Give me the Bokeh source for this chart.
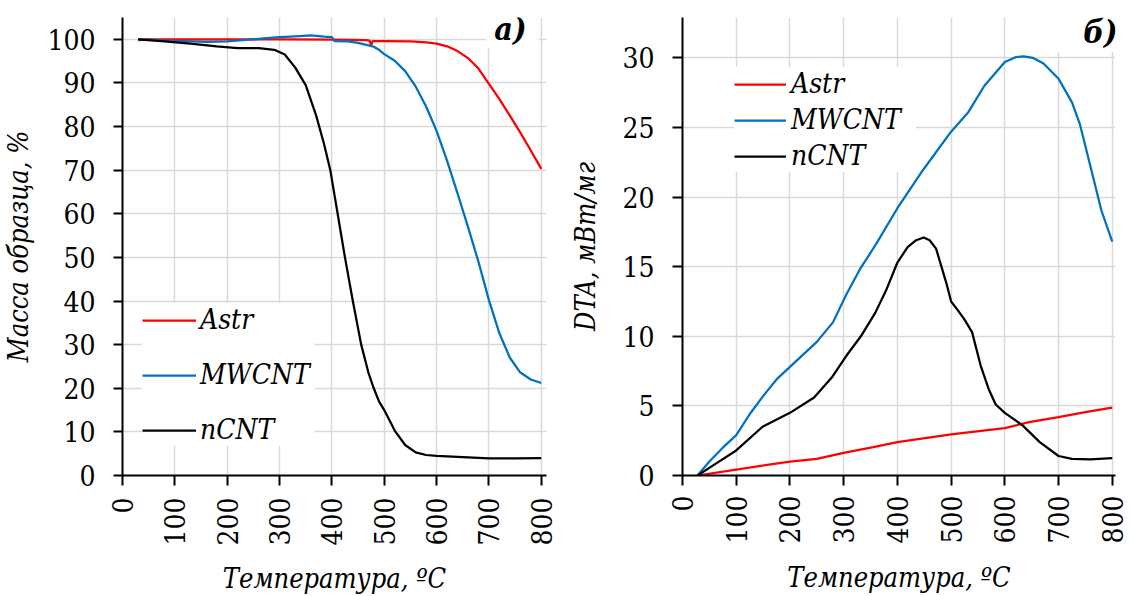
import math
from bokeh.plotting import figure
from bokeh.layouts import row
from bokeh.models import FixedTicker, Label, BoxAnnotation, Range1d
from bokeh.embed import file_html
from bokeh.resources import INLINE

# ---------------- data: TGA (panel a) ----------------
tga_astr_t = [30, 100, 200, 300, 400, 465, 472, 475, 478, 490, 500, 550, 580, 600, 620, 640, 660, 680, 700, 720, 740, 760, 780, 800]
tga_astr = [100, 100, 100, 100, 99.9, 99.8, 99.7, 98.6, 99.6, 99.6, 99.6, 99.5, 99.3, 99.0, 98.4, 97.3, 95.7, 93.3, 89.8, 86.3, 82.5, 78.6, 74.5, 70.3]

tga_mw_t = [30, 50, 80, 120, 160, 200, 240, 270, 300, 330, 360, 385, 400, 405, 430, 450, 470, 480, 490, 500, 520, 540, 560, 580, 600, 620, 640, 660, 680, 700, 720, 740, 760, 780, 800]
tga_mw = [99.8, 99.9, 99.7, 99.6, 99.4, 99.5, 99.9, 100.2, 100.5, 100.7, 100.9, 100.6, 100.5, 99.6, 99.5, 99.2, 98.6, 98.3, 97.6, 96.6, 95.1, 92.7, 89.2, 84.6, 79.0, 72.2, 64.7, 57.0, 49.0, 40.2, 32.6, 27.0, 23.6, 22.0, 21.2]

tga_n_t = [30, 80, 130, 180, 220, 260, 290, 310, 330, 350, 370, 385, 397, 411, 425, 440, 456, 470, 480, 490, 500, 520, 540, 560, 580, 600, 650, 700, 750, 800]
tga_n = [100, 99.5, 99.0, 98.4, 98.0, 98.0, 97.6, 96.5, 93.5, 89.5, 82.5, 76, 70, 60, 50, 40, 30, 23.5, 20, 17, 15, 10.3, 7, 5.3, 4.7, 4.5, 4.2, 3.9, 3.9, 4.0]

# ---------------- data: DTA (panel б) ----------------
dta_astr_t = [28, 100, 200, 250, 300, 355, 400, 500, 600, 645, 700, 750, 800]
dta_astr = [0, 0.43, 1.0, 1.2, 1.63, 2.04, 2.4, 2.95, 3.4, 3.84, 4.2, 4.55, 4.87]

dta_mw_t = [28, 50, 75, 100, 125, 150, 175, 200, 225, 250, 280, 305, 330, 360, 400, 445, 500, 532, 562, 600, 620, 635, 652, 672, 700, 725, 740, 760, 780, 800]
dta_mw = [0, 1.0, 2.0, 2.9, 4.4, 5.7, 6.9, 7.8, 8.7, 9.6, 11.0, 13.0, 14.8, 16.6, 19.2, 21.8, 24.7, 26.1, 28.0, 29.7, 30.05, 30.1, 30.0, 29.6, 28.5, 26.8, 25.2, 22.1, 19.0, 16.8]

dta_n_t = [28, 60, 100, 149, 200, 245, 279, 305, 332, 359, 379, 400, 419, 435, 449, 460, 472, 482, 492, 500, 512, 525, 539, 555, 570, 583, 600, 633, 665, 700, 725, 759, 800]
dta_n = [0, 0.8, 1.8, 3.5, 4.5, 5.6, 7.1, 8.6, 10.0, 11.7, 13.3, 15.3, 16.4, 16.9, 17.1, 16.9, 16.3, 15.0, 13.7, 12.5, 11.9, 11.2, 10.3, 7.9, 6.2, 5.1, 4.5, 3.6, 2.4, 1.4, 1.2, 1.15, 1.25]

x_ticks = [0, 100, 200, 300, 400, 500, 600, 700, 800]
tga_ticks = [0, 10, 20, 30, 40, 50, 60, 70, 80, 90, 100]
dta_ticks = [0, 5, 10, 15, 20, 25, 30]

series_names = ["Astr", "MWCNT", "nCNT"]
colors = ["#ff0000", "#0070c0", "#000000"]
x_title = "Температура, ºC"

FONT = "'DejaVu Serif Condensed', 'DejaVu Serif'"
GRID = "#d9d9d9"


def style(p, yticks):
    p.xaxis.ticker = FixedTicker(ticks=x_ticks)
    p.yaxis.ticker = FixedTicker(ticks=yticks)
    p.xgrid.ticker = FixedTicker(ticks=x_ticks)
    p.ygrid.ticker = FixedTicker(ticks=yticks)
    for g in (p.xgrid[0], p.ygrid[0]):
        g.grid_line_color = GRID
        g.grid_line_width = 1.5
    for ax in (p.xaxis[0], p.yaxis[0]):
        ax.axis_line_width = 2
        ax.axis_line_color = "black"
        ax.major_tick_line_width = 2
        ax.major_tick_line_color = "black"
        ax.major_tick_in = 0
        ax.major_tick_out = 10
        ax.minor_tick_line_color = None
        ax.major_label_text_font = FONT
        ax.major_label_text_font_size = "28px"
        ax.major_label_text_color = "black"
        ax.axis_label_text_font = FONT
        ax.axis_label_text_font_size = "27px"
        ax.axis_label_text_font_style = "italic"
        ax.axis_label_text_color = "black"
    p.xaxis.major_label_orientation = math.pi / 2
    p.outline_line_color = None
    p.background_fill_color = "white"


def style_legend(p, loc, padding, spacing, glyph_w, standoff, label_w):
    lg = p.legend[0]
    lg.location = loc
    lg.margin = 0
    lg.padding = padding
    lg.spacing = spacing
    lg.glyph_width = glyph_w
    lg.glyph_height = 30
    lg.label_height = 30
    lg.label_standoff = standoff
    lg.label_width = label_w
    lg.label_text_font = FONT
    lg.label_text_font_size = "28px"
    lg.label_text_font_style = "italic"
    lg.label_text_color = "black"
    lg.border_line_color = None
    lg.background_fill_color = "white"
    lg.background_fill_alpha = 1.0


# ---------------- panel a ----------------
p1 = figure(width=558, height=596, output_backend="svg", toolbar_location=None,
            x_range=Range1d(0, 810), y_range=Range1d(0, 105),
            min_border_left=117, min_border_right=12, min_border_top=17, min_border_bottom=117)
style(p1, tga_ticks)
p1.xaxis.axis_label = x_title
p1.yaxis.axis_label = "Масса образца, %"
p1.xaxis.major_label_standoff = 12
p1.xaxis.axis_label_standoff = 14
p1.yaxis.major_label_standoff = 18
p1.yaxis.axis_label_standoff = 10
p1.yaxis.major_tick_out = 9

p1.add_layout(BoxAnnotation(left=695, right=795, bottom=98, top=105, fill_color="white",
                            fill_alpha=1.0, line_alpha=0, level="underlay"))
for t, v, name, c in zip([tga_astr_t, tga_mw_t, tga_n_t], [tga_astr, tga_mw, tga_n], series_names, colors):
    p1.line(t, v, line_color=c, line_width=2.25, legend_label=name)
style_legend(p1, (20, 29), 12, 22, 54, 4, 115)
p1.add_layout(Label(x=772, y=102.4, text="а)", text_font=FONT, text_font_style="bold italic",
                    text_font_size="32px", text_align="right", text_baseline="alphabetic",
                    text_color="black"))

# ---------------- panel б ----------------
p2 = figure(width=573, height=596, output_backend="svg", toolbar_location=None,
            x_range=Range1d(0, 806), y_range=Range1d(0, 32.9),
            min_border_left=124, min_border_right=16, min_border_top=17, min_border_bottom=117)
style(p2, dta_ticks)
p2.xaxis.axis_label = x_title
p2.yaxis.axis_label = "DTA, мВт/мг"
p2.xaxis.major_label_standoff = 10
p2.xaxis.axis_label_standoff = 15
p2.yaxis.major_label_standoff = 18
p2.yaxis.axis_label_standoff = 18

p2.add_layout(BoxAnnotation(left=690, right=806, bottom=30.4, top=32.9, fill_color="white",
                            fill_alpha=1.0, line_alpha=0, level="underlay"))
for t, v, name, c in zip([dta_astr_t, dta_mw_t, dta_n_t], [dta_astr, dta_mw, dta_n], series_names, colors):
    p2.line(t, v, line_color=c, line_width=2.25, legend_label=name)
style_legend(p2, (52, 303), 4, 3, 52, 5, 125)
p2.add_layout(Label(x=810, y=31.85, text="б)", text_font=FONT, text_font_style="bold italic",
                    text_font_size="32px", text_align="right", text_baseline="alphabetic",
                    text_color="black"))

layout = row(p1, p2)
open("out.html", "w").write(file_html(layout, INLINE))
